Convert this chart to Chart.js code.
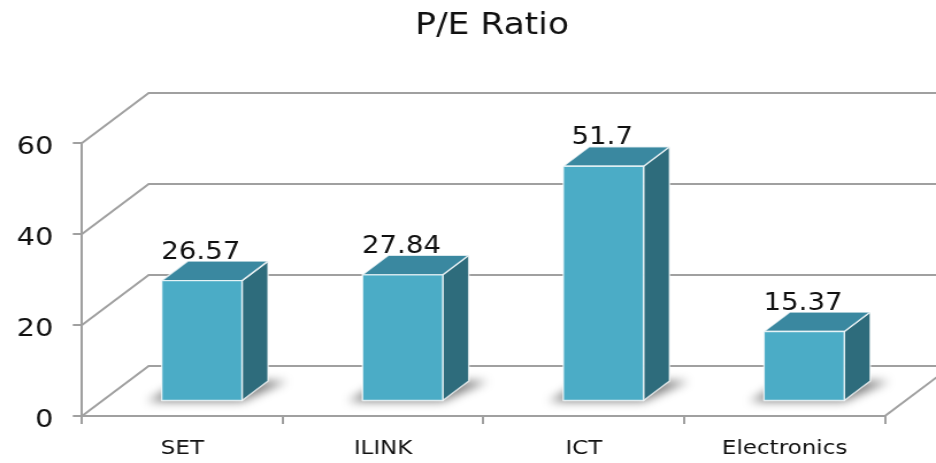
<!DOCTYPE html>
<html>
<head>
<meta charset="utf-8">
<script src="https://cdn.jsdelivr.net/npm/chart.js@4.4.1/dist/chart.umd.min.js"></script>
<style>
html,body{margin:0;padding:0;background:#fff;overflow:hidden}
canvas{display:block}
</style>
</head>
<body>
<canvas id="c" width="814" height="463" style="width:936px;height:463px"></canvas>
<script>
// ---- data ----
const categories = ['SET', 'ILINK', 'ICT', 'Electronics'];
const peValues = [26.57, 27.84, 51.7, 15.37];
const yTickValues = [0, 20, 40, 60];
const titleText = 'P/E Ratio';

// ---- styles ----
const GRID = '#a0a0a0';
const TEXT = '#111111';
const WALL_DX = 58, WALL_DY = -50;        // depth of back wall
const BAR_SHIFT_X = 17, BAR_SHIFT_Y = -14.5; // bar front face set into the depth
const BAR_DX = 22.6, BAR_DY = -19.5;      // bar depth
const FRONT = '#4BACC6', TOP = '#3A88A0', SIDE = '#2E6C7C';
const TITLE_SHIFT = 7.5;

Chart.defaults.font.family = '"DejaVu Sans", Verdana, sans-serif';

function poly(ctx, pts, fill, stroke) {
  ctx.beginPath();
  ctx.moveTo(pts[0][0], pts[0][1]);
  for (let i = 1; i < pts.length; i++) ctx.lineTo(pts[i][0], pts[i][1]);
  ctx.closePath();
  if (fill) { ctx.fillStyle = fill; ctx.fill(); }
  if (stroke) { ctx.stroke(); }
}

const threeD = {
  id: 'threeD',
  afterLayout(chart) {
    const t = chart.titleBlock;
    if (t) { t.left += TITLE_SHIFT; t.right += TITLE_SHIFT; }
  },
  beforeDatasetsDraw(chart) {
    const {ctx, chartArea: a, scales: {y}} = chart;
    ctx.save();
    ctx.strokeStyle = GRID;
    ctx.lineWidth = 2;
    y.ticks.forEach(t => {
      const py = y.getPixelForValue(t.value);
      ctx.beginPath();
      ctx.moveTo(a.left, py);
      ctx.lineTo(a.left + WALL_DX, py + WALL_DY);
      ctx.lineTo(a.right + WALL_DX + 20, py + WALL_DY);
      ctx.stroke();
    });
    const p0 = y.getPixelForValue(0);
    ctx.beginPath();
    ctx.moveTo(a.right, p0);
    ctx.lineTo(a.right + WALL_DX, p0 + WALL_DY);
    ctx.stroke();
    ctx.restore();
  },
  afterDatasetsDraw(chart) {
    const {ctx} = chart;
    const meta = chart.getDatasetMeta(0);
    const boxes = meta.data.map(el => {
      const L = el.x - el.width / 2 + BAR_SHIFT_X;
      const R = el.x + el.width / 2 + BAR_SHIFT_X;
      const T = el.y + BAR_SHIFT_Y;
      const B = el.base + BAR_SHIFT_Y;
      return {L, R, T, B};
    });
    // shadows
    ctx.save();
    ctx.filter = 'blur(5px)';
    boxes.forEach(({L, R, B}) => {
      poly(ctx, [[L - 12, B + 1], [R, B + 1], [R + BAR_DX + 16, B + BAR_DY], [L + BAR_DX - 6, B + BAR_DY]], 'rgba(0,0,0,0.5)');
    });
    ctx.restore();
    // bars
    ctx.save();
    ctx.strokeStyle = 'rgba(255,255,255,0.75)';
    ctx.lineWidth = 1.4;
    ctx.lineJoin = 'round';
    boxes.forEach(({L, R, T, B}) => {
      poly(ctx, [[R, T], [R + BAR_DX, T + BAR_DY], [R + BAR_DX, B + BAR_DY], [R, B]], SIDE, true);
      poly(ctx, [[L, T], [R, T], [R + BAR_DX, T + BAR_DY], [L + BAR_DX, T + BAR_DY]], TOP, true);
      poly(ctx, [[L, T], [R, T], [R, B], [L, B]], FRONT, true);
    });
    ctx.restore();
    // value labels
    ctx.save();
    ctx.font = '24px "DejaVu Sans", Verdana, sans-serif';
    ctx.fillStyle = TEXT;
    ctx.textAlign = 'center';
    ctx.textBaseline = 'alphabetic';
    boxes.forEach(({L, R, T}, i) => {
      ctx.fillText(String(peValues[i]), (L + R) / 2 - 1, T - 22);
    });
    ctx.restore();
  }
};

new Chart(document.getElementById('c'), {
  type: 'bar',
  data: {
    labels: categories,
    datasets: [{
      label: 'P/E Ratio',
      data: peValues,
      backgroundColor: 'rgba(0,0,0,0)',
      borderWidth: 0,
      barPercentage: 0.4,
      categoryPercentage: 1
    }]
  },
  options: {
    responsive: false,
    animation: false,
    devicePixelRatio: 1,
    layout: {padding: {left: 0, right: 44.4, top: 0, bottom: 0}},
    plugins: {
      legend: {display: false},
      tooltip: {enabled: false},
      title: {
        display: true,
        text: titleText,
        fullSize: false,
        color: TEXT,
        font: {size: 30, weight: 'normal'},
        padding: {top: 8, bottom: 99}
      }
    },
    scales: {
      x: {
        grid: {offset: true, drawOnChartArea: false, color: GRID, lineWidth: 2, tickLength: 8},
        border: {color: GRID, width: 2},
        ticks: {color: TEXT, font: {size: 20}, padding: 13, maxRotation: 0, autoSkip: false},
        afterFit(s) { s.height = 47; }
      },
      y: {
        min: 0,
        max: 60,
        afterBuildTicks(s) { s.ticks = yTickValues.map(v => ({value: v})); },
        grid: {drawOnChartArea: false, color: GRID, lineWidth: 2, tickLength: 8},
        border: {color: GRID, width: 2},
        ticks: {color: TEXT, font: {size: 25}, padding: 17, labelOffset: 4},
        afterFit(s) { s.width = 71.3; }
      }
    }
  },
  plugins: [threeD]
});
</script>
</body>
</html>
